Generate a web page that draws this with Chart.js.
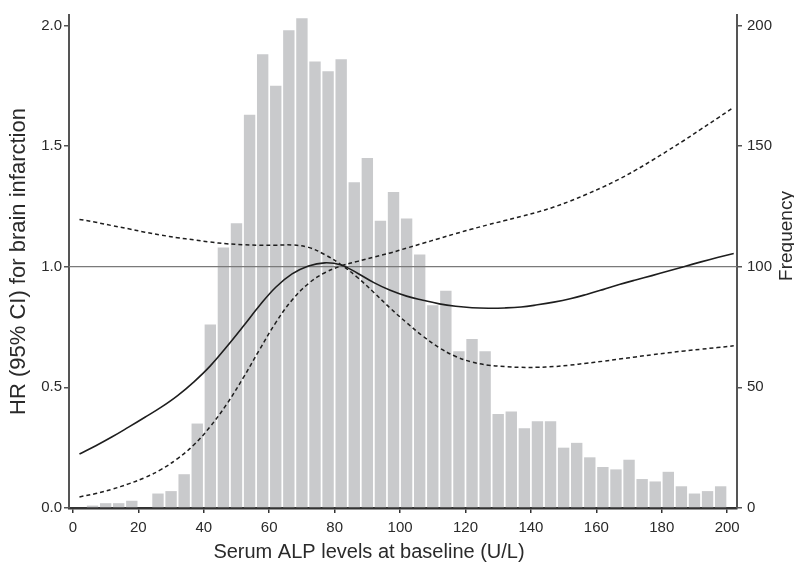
<!DOCTYPE html>
<html>
<head>
<meta charset="utf-8">
<script src="https://cdn.jsdelivr.net/npm/chart.js@4/dist/chart.umd.min.js"></script>
<style>
  html, body { margin: 0; padding: 0; background: #fff; }
  #wrap { width: 794px; height: 562px; position: relative; }
</style>
</head>
<body>
<div id="wrap"><canvas id="c" width="794" height="562"></canvas></div>
<script>
// ---- Data ----
// Histogram bins (4 U/L wide), bin centres and counts
const binCenters = [2,6,10,14,18,22,26,30,34,38,42,46,50,54,58,62,66,70,74,78,82,86,90,94,98,102,106,110,114,118,122,126,130,134,138,142,146,150,154,158,162,166,170,174,178,182,186,190,194,198];
const frequency  = [0,1,2,2,3,0,6,7,14,35,76,108,118,163,188,175,198,203,185,181,186,135,145,119,131,120,105,84,90,65,70,65,39,40,33,36,36,25,27,21,17,16,20,12,11,15,9,6,7,9];

// Spline curve: ALP value, HR and 95% CI bounds
const alpValues = [2,7,12,17,22,27,32,37,42,47,52,57,62,67,72,77,82,87,92,97,102,107,112,117,122,127,132,137,142,147,152,157,162,167,172,177,182,187,192,197,202];
const hr        = [0.224,0.258,0.295,0.335,0.376,0.418,0.466,0.523,0.589,0.668,0.752,0.838,0.915,0.970,1.003,1.016,1.007,0.973,0.934,0.902,0.878,0.861,0.846,0.836,0.830,0.828,0.829,0.833,0.842,0.853,0.867,0.885,0.905,0.926,0.945,0.963,0.982,1.001,1.020,1.038,1.055];
const ciA       = [1.196,1.184,1.170,1.157,1.143,1.131,1.120,1.111,1.102,1.095,1.091,1.089,1.089,1.090,1.080,1.050,1.008,0.955,0.893,0.828,0.768,0.712,0.664,0.628,0.605,0.592,0.586,0.583,0.583,0.586,0.592,0.600,0.608,0.617,0.626,0.635,0.643,0.651,0.658,0.665,0.672];
const ciB       = [0.046,0.060,0.078,0.100,0.126,0.160,0.205,0.262,0.338,0.430,0.538,0.655,0.768,0.862,0.930,0.975,1.003,1.022,1.040,1.057,1.077,1.097,1.117,1.137,1.156,1.174,1.191,1.208,1.226,1.247,1.272,1.300,1.330,1.363,1.400,1.440,1.482,1.525,1.570,1.615,1.660];

const referenceHR = 1.0;
const xMin = -1.2, xMax = 203;
const hrMax = 2.043, freqMax = 204.3;

const xTitle = 'Serum ALP levels at baseline (U/L)';
const yTitle = 'HR (95% CI) for brain infarction';
const y2Title = 'Frequency';

// ---- Build ----
const toXY = (xs, ys) => xs.map((x, i) => ({x: x, y: ys[i]}));
const FONT = '"Liberation Sans", Arial, Helvetica, sans-serif';
const AXIS_COLOR = '#555';
const TEXT_COLOR = '#2a2a2a';

const titlesPlugin = {
  id: 'customTitles',
  afterDraw(chart) {
    const ctx = chart.ctx;
    ctx.save();
    ctx.fillStyle = TEXT_COLOR;
    ctx.font = '20px ' + FONT;
    ctx.textAlign = 'center';
    ctx.textBaseline = 'alphabetic';
    ctx.fillText(xTitle, 369, 558);
    ctx.translate(792, 236);
    ctx.rotate(-Math.PI / 2);
    ctx.font = '19px ' + FONT;
    ctx.fillText(y2Title, 0, 0);
    ctx.restore();
  }
};

const tickFont = {family: FONT, size: 15};

new Chart(document.getElementById('c'), {
  type: 'line',
  data: {
    datasets: [
      {
        type: 'line',
        label: 'HR',
        data: toXY(alpValues, hr),
        yAxisID: 'y',
        borderColor: '#1e1e1e',
        borderWidth: 1.6,
        pointRadius: 0,
        tension: 0.4,
        fill: false,
        order: 0
      },
      {
        type: 'line',
        label: '95% CI',
        data: toXY(alpValues, ciA),
        yAxisID: 'y',
        borderColor: '#1e1e1e',
        borderWidth: 1.5,
        borderDash: [4, 3],
        pointRadius: 0,
        tension: 0.4,
        fill: false,
        order: 1
      },
      {
        type: 'line',
        label: '95% CI',
        data: toXY(alpValues, ciB),
        yAxisID: 'y',
        borderColor: '#1e1e1e',
        borderWidth: 1.5,
        borderDash: [4, 3],
        pointRadius: 0,
        tension: 0.4,
        fill: false,
        order: 2
      },
      {
        type: 'line',
        label: 'Reference',
        data: [{x: xMin, y: referenceHR}, {x: xMax, y: referenceHR}],
        yAxisID: 'y',
        borderColor: '#7a7a7a',
        borderWidth: 1.2,
        pointRadius: 0,
        fill: false,
        order: 3
      },
      {
        type: 'bar',
        label: 'Frequency',
        data: toXY(binCenters, frequency),
        yAxisID: 'y1',
        backgroundColor: '#c9cacc',
        borderWidth: 0,
        barPercentage: 0.87,
        categoryPercentage: 1.0,
        order: 10
      }
    ]
  },
  options: {
    responsive: false,
    animation: false,
    devicePixelRatio: 1,
    layout: {padding: {top: 15, left: 0, right: 0, bottom: 0}},
    plugins: {
      legend: {display: false},
      tooltip: {enabled: false}
    },
    scales: {
      x: {
        type: 'linear',
        position: 'bottom',
        min: xMin,
        max: xMax,
        offset: false,
        afterFit: (s) => { s.height = 54; },
        ticks: {stepSize: 20, includeBounds: false, font: tickFont, color: TEXT_COLOR, padding: 6, maxRotation: 0},
        grid: {display: true, drawOnChartArea: false, drawTicks: true, tickLength: 5, color: '#333', lineWidth: 1.5, offset: false},
        border: {display: true, color: '#333', width: 2.5}
      },
      y: {
        type: 'linear',
        position: 'left',
        min: 0,
        max: hrMax,
        afterFit: (s) => { s.width = 69; },
        ticks: {stepSize: 0.5, includeBounds: false, font: tickFont, color: TEXT_COLOR, padding: 2,
                callback: (v) => v.toFixed(1)},
        grid: {display: true, drawOnChartArea: false, drawTicks: true, tickLength: 5, color: AXIS_COLOR, lineWidth: 1.5},
        border: {display: true, color: AXIS_COLOR, width: 2},
        title: {display: true, text: yTitle, font: {family: FONT, size: 22}, color: TEXT_COLOR, padding: {top: 6, bottom: 0}}
      },
      y1: {
        type: 'linear',
        position: 'right',
        min: 0,
        max: freqMax,
        afterFit: (s) => { s.width = 57; },
        ticks: {stepSize: 50, includeBounds: false, font: tickFont, color: TEXT_COLOR, padding: 5},
        grid: {display: true, drawOnChartArea: false, drawTicks: true, tickLength: 5, color: AXIS_COLOR, lineWidth: 1.5},
        border: {display: true, color: AXIS_COLOR, width: 2}
      }
    }
  },
  plugins: [titlesPlugin]
});
</script>
</body>
</html>
